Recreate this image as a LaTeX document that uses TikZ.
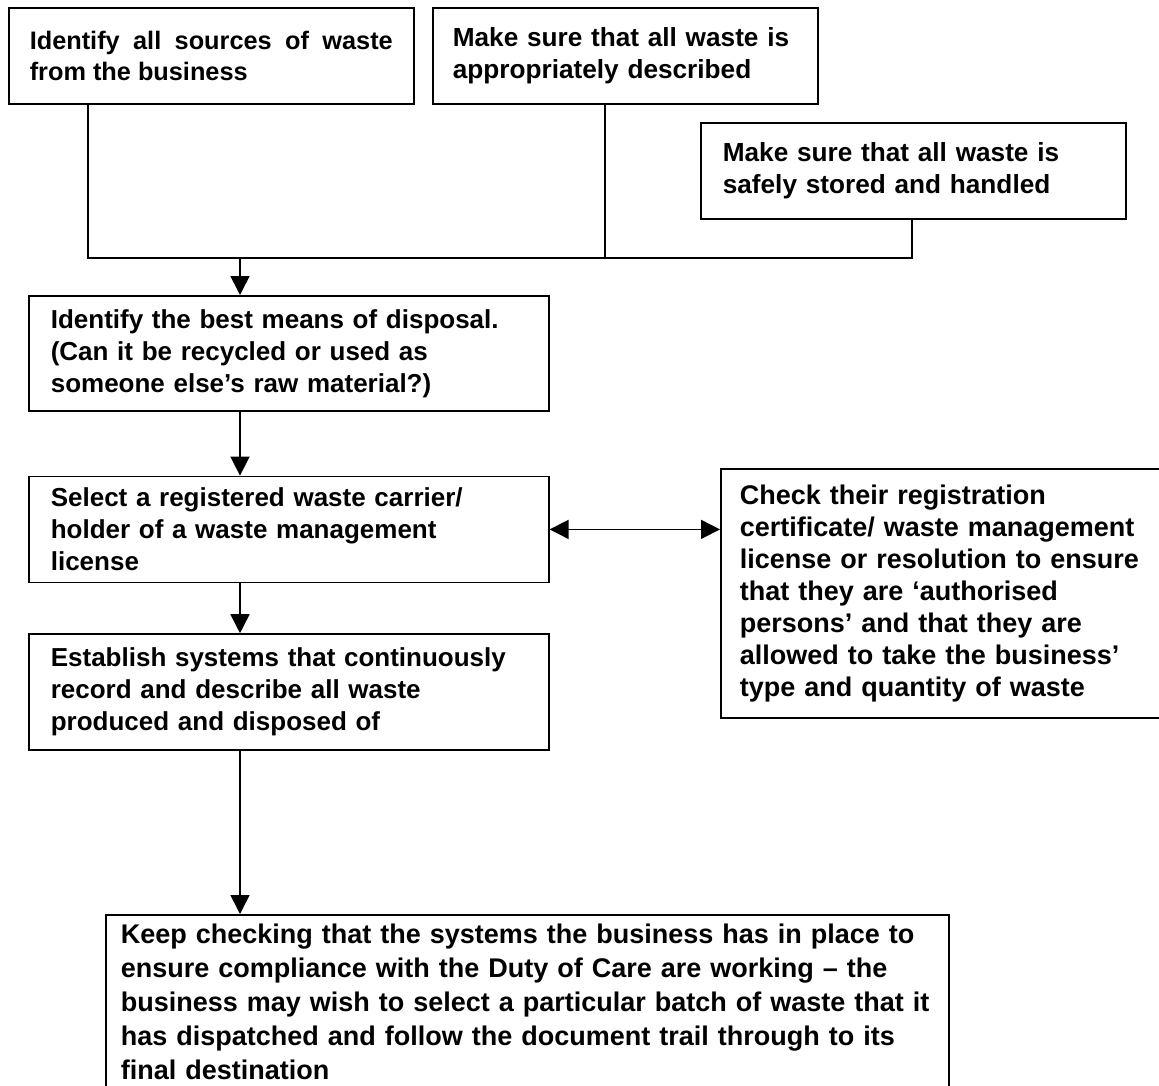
\documentclass[tikz,border=0pt]{standalone}
\usepackage{fontspec}
\setmainfont{Liberation Sans}
\usetikzlibrary{positioning,arrows.meta}
\tikzset{task node/.style={rectangle,draw,line width=1.6pt,anchor=north west,align=left,inner xsep=22pt,inner ysep=0pt,font=\bfseries\fontsize{26pt}{32pt}\selectfont}}
\tikzset{flow/.style={line width=1.6pt,-{Triangle[length=19pt,width=19pt]}}}

\begin{document}
\begin{tikzpicture}[x=1pt,y=-1pt]
            \useasboundingbox (0,0) rectangle (1159,1086);
            \clip (0,0) rectangle (1159,1086);

            \node[task node, align=justify, inner xsep=21pt, text width=363pt, minimum height=96pt, font=\bfseries\fontsize{25.3pt}{31pt}\selectfont] (sources) at (8,7) {Identify all sources of waste from the business};
            \node[task node, inner xsep=20pt, text width=345pt, minimum height=96pt, font=\bfseries\fontsize{26.2pt}{32pt}\selectfont] (described) at (432,7) {Make sure that all waste is\\appropriately described};
            \node[task node, text width=381pt, minimum height=96pt, font=\bfseries\fontsize{26.2pt}{32pt}\selectfont] (stored) at (700,122) {Make sure that all waste is\\safely stored and handled};
            \node[task node, text width=476pt, minimum height=115pt] (disposal) at (28,295) {Identify the best means of disposal.\\(Can it be recycled or used as\\someone else’s raw material?)};
            \node[task node, text width=476pt, minimum height=106pt] (carrier) [below = 64pt of disposal] {Select a registered waste carrier/\\holder of a waste management\\license};
            \node[task node, text width=476pt, minimum height=116pt] (records) [below = 50pt of carrier] {Establish systems that continuously\\record and describe all waste\\produced and disposed of};
            \node[task node, inner xsep=19pt, text width=420pt, minimum height=249pt, font=\bfseries\fontsize{27pt}{32pt}\selectfont] (licence) at (720,468) {Check their registration\\certificate/ waste management\\license or resolution to ensure\\that they are ‘authorised\\persons’ and that they are\\allowed to take the business’\\type and quantity of waste};
            \node[task node, inner xsep=15pt, text width=813pt, minimum height=174pt, font=\bfseries\fontsize{27pt}{34pt}\selectfont] (checking) at (105,914) {Keep checking that the systems the business has in place to\\ensure compliance with the Duty of Care are working – the\\business may wish to select a particular batch of waste that it\\has dispatched and follow the document trail through to its\\final destination};

            \coordinate (stem a) at (88,258);
            \coordinate (stem b) at (605,258);
            \coordinate (stem c) at (912,258);
            \coordinate (merge) at (240,258);

            \path[draw, line width=1.6pt]
            (stem a |- sources.south) -- (stem a) -- (stem c) -- (stem c |- stored.south)
            (stem b |- described.south) -- (stem b);

            \draw[flow] (merge) -- (merge |- disposal.north);
            \draw[flow] (merge |- disposal.south) -- (merge |- carrier.north);
            \draw[flow] (merge |- carrier.south) -- (merge |- records.north);
            \draw[flow] (merge |- records.south) -- (merge |- checking.north);
            \draw[flow, {Triangle[length=19pt,width=19pt]}-{Triangle[length=19pt,width=19pt]}] (carrier.east) -- (carrier.east -| licence.west);
        \end{tikzpicture}
\end{document}
